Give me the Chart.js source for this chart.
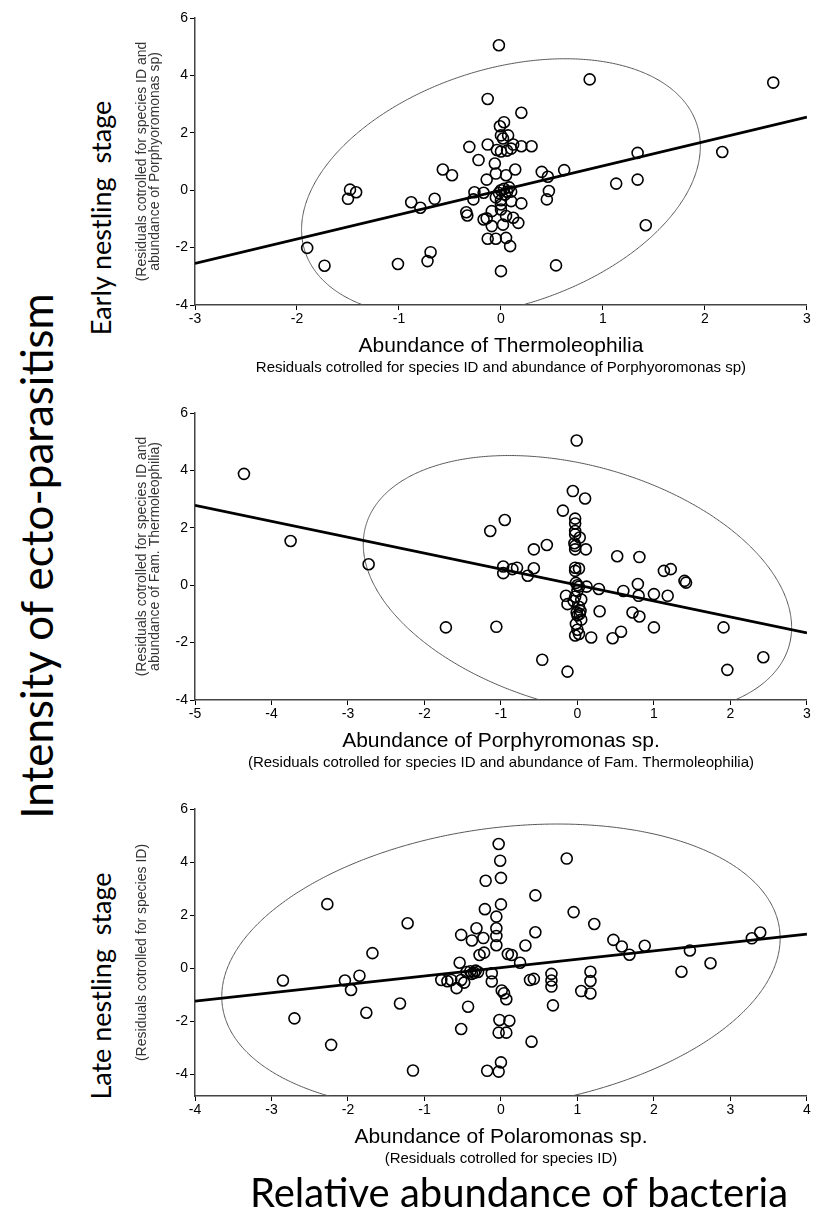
<!DOCTYPE html>
<html><head><meta charset="utf-8">
<script src="https://cdn.jsdelivr.net/npm/chart.js@4.4.0/dist/chart.umd.min.js"></script>
<style>
html,body{margin:0;padding:0;background:#fff;width:814px;height:1211px;overflow:hidden;position:relative}
canvas{position:absolute}
.lbl{position:absolute;white-space:pre;color:#000;font-family:Lato,"Liberation Sans",sans-serif;transform:translate(-50%,-50%) rotate(-90deg);line-height:1}
.hl{position:absolute;white-space:pre;color:#000;font-family:Lato,"Liberation Sans",sans-serif;transform:translate(-50%,-50%);line-height:1}
</style></head><body>
<canvas id="c1" width="684" height="380" style="left:130px;top:0px"></canvas>
<canvas id="c2" width="684" height="380" style="left:130px;top:395px"></canvas>
<canvas id="c3" width="684" height="380" style="left:130px;top:791px"></canvas>
<div class="lbl" style="left:36px;top:556px;font-size:44px">Intensity of ecto-parasitism</div>
<div class="lbl" style="left:100px;top:218px;font-size:27px">Early nestling  stage</div>
<div class="lbl" style="left:100px;top:986px;font-size:27px">Late nestling  stage</div>
<div class="hl" style="left:519px;top:1192px;font-size:40px">Relative abundance of bacteria</div>
<script>
// ---------- Panel 1: Thermoleophilia ----------
const p1X = [-0.02,0.87,2.67,-0.13,0.20,0.03,-0.01,0.00,0.07,0.02,-0.31,-0.13,0.20,0.30,0.12,0.00,0.06,-0.04,0.10,1.34,2.17,-0.22,-0.06,-0.57,-0.48,-0.05,0.14,0.05,-0.14,0.40,0.46,0.62,1.13,1.34,0.47,0.45,0.00,0.03,0.06,-0.02,0.08,0.04,0.10,-0.26,-0.17,-0.27,-1.48,-1.50,-1.42,-0.88,-0.79,-0.65,-0.34,-0.33,-0.17,-0.14,-0.09,0.00,0.10,0.20,0.00,-0.09,0.02,0.12,0.17,0.05,-0.13,-0.05,0.05,0.09,0.00,0.54,1.42,-0.69,-0.72,-1.01,-1.90,-1.73,0.00,-0.05];
const p1Y = [5.05,3.86,3.75,3.18,2.70,2.37,2.23,1.91,1.91,1.80,1.51,1.59,1.53,1.53,1.59,1.35,1.38,1.40,1.45,1.30,1.33,1.05,0.93,0.72,0.52,0.58,0.72,0.52,0.37,0.64,0.47,0.70,0.23,0.37,-0.03,-0.32,0.00,0.05,-0.05,-0.10,0.10,-0.15,-0.05,-0.07,-0.09,-0.32,0.02,-0.30,-0.07,-0.42,-0.61,-0.30,-0.77,-0.88,-1.02,-0.98,-0.73,-0.67,-0.38,-0.46,-0.35,-1.25,-1.20,-0.96,-1.14,-0.90,-1.69,-1.69,-1.66,-1.95,-2.82,-2.62,-1.22,-2.16,-2.47,-2.57,-2.01,-2.63,-0.50,-0.25];
const fit1X = [-3, 3];
const fit1Y = [-2.55, 2.55];
const ell1 = [0, 0.08, 1.955, 1.45, 4.26];   // centre x, centre y, x-amp, y-cos-amp, y-sin-amp (data units)
const xTicks1 = [-3,-2,-1,0,1,2,3];

// ---------- Panel 2: Porphyromonas ----------
const p2X = [-4.36,-3.75,-2.73,-1.72,-1.06,-0.46,-0.13,-1.14,-0.95,-0.57,-0.40,-0.97,-0.97,-0.85,-0.79,-0.65,-0.57,-0.01,-0.06,0.10,-0.19,-0.03,-0.03,-0.03,-0.03,0.03,-0.04,-0.03,0.11,-0.03,-0.03,-0.03,0.02,0.52,0.81,1.13,1.22,1.40,1.42,0.79,0.12,0.28,0.60,0.80,1.00,1.18,0.29,0.72,0.81,1.00,0.57,0.46,0.18,1.91,1.96,2.43,0.00,0.02,-0.02,0.00,-0.03,-0.05,0.02,0.04,0.00,0.05,-0.02,0.00,0.02,-0.03,-0.15,-0.13,0.05,-0.01,0.03];
const p2Y = [3.88,1.54,0.73,-1.47,-1.45,-2.60,-3.01,1.89,2.27,1.25,1.40,0.65,0.42,0.56,0.61,0.33,0.59,5.04,3.28,3.02,2.60,2.32,2.15,1.89,1.77,1.66,1.46,1.37,1.25,1.25,0.61,0.50,0.58,1.01,0.98,0.50,0.56,0.15,0.09,0.04,-0.05,-0.13,-0.20,-0.37,-0.31,-0.37,-0.91,-0.95,-1.09,-1.47,-1.62,-1.85,-1.82,-1.47,-2.95,-2.51,0.00,-0.05,0.08,-0.20,-0.40,-0.55,-0.75,-0.90,-1.05,-1.20,-1.35,-1.55,-1.70,-1.75,-0.37,-0.66,-0.50,-0.95,-1.00];
const fit2X = [-5, 3];
const fit2Y = [2.78, -1.66];
const ell2 = [0, -0.02, 2.80, -1.45, 4.30];
const xTicks2 = [-5,-4,-3,-2,-1,0,1,2,3];

// ---------- Panel 3: Polaromonas ----------
const p3X = [-2.85,-2.70,-2.22,-2.27,-2.04,-1.96,-1.85,-1.76,-1.68,-1.32,-1.22,-1.15,-0.03,-0.01,0.00,-0.20,0.86,0.45,0.95,0.00,-0.21,-0.06,-0.06,-0.06,-0.06,-0.52,-0.32,-0.23,-0.38,0.45,0.32,1.22,1.47,1.58,1.68,1.88,2.47,2.36,2.74,3.28,3.39,-0.54,-0.28,-0.22,0.09,0.14,0.25,-0.45,-0.40,-0.35,-0.30,-0.38,-0.33,-0.78,-0.70,-0.65,-0.52,-0.58,-0.48,-0.12,-0.12,0.01,0.04,0.07,-0.43,0.38,0.43,0.66,0.66,0.66,0.68,1.17,1.17,1.17,1.05,-0.02,0.11,-0.03,0.07,-0.52,0.40,0.00,-0.18,-0.03];
const p3Y = [-0.47,-1.90,-2.90,2.41,-0.47,-0.83,-0.29,-1.69,0.56,-1.34,1.69,-3.87,4.68,4.05,3.40,3.29,4.13,2.74,2.11,2.40,2.22,1.94,1.50,1.21,0.86,1.25,1.50,1.13,1.04,1.35,0.85,1.66,1.06,0.81,0.50,0.84,0.66,-0.14,0.18,1.12,1.34,0.20,0.49,0.58,0.53,0.49,0.20,-0.15,-0.12,-0.18,-0.15,-0.22,-0.10,-0.45,-0.50,-0.45,-0.45,-0.76,-0.55,-0.20,-0.51,-0.85,-0.95,-1.18,-1.46,-0.45,-0.41,-0.22,-0.47,-0.70,-1.41,-0.14,-0.49,-0.96,-0.87,-1.96,-1.99,-2.44,-2.44,-2.30,-2.78,-3.56,-3.88,-3.91];
const fit3X = [-4, 4];
const fit3Y = [-1.25, 1.28];
const ell3 = [0, 0.02, 3.65, 1.10, 5.30];
const xTicks3 = [-4,-3,-2,-1,0,1,2,3,4];

const yTicks = [-4,-2,0,2,4,6];

const FONT = '"Liberation Sans", Arial, sans-serif';

function ellipsePlugin(e){
  return {
    id:'ellipse',
    beforeDatasetsDraw(chart){
      const {ctx, chartArea:a, scales} = chart;
      const sx = scales.x, sy = scales.y;
      ctx.save();
      ctx.beginPath(); ctx.rect(a.left, a.top, a.right-a.left, a.bottom-a.top); ctx.clip();
      ctx.beginPath();
      for(let i=0;i<=720;i++){
        const t = i*Math.PI/360;
        const vx = e[0] + e[2]*Math.cos(t);
        const vy = e[1] + e[3]*Math.cos(t) + e[4]*Math.sin(t);
        const px = sx.getPixelForValue(vx), py = sy.getPixelForValue(vy);
        if(i===0) ctx.moveTo(px,py); else ctx.lineTo(px,py);
      }
      ctx.closePath();
      ctx.strokeStyle = '#555'; ctx.lineWidth = 1; ctx.stroke();
      ctx.restore();
    }
  };
}

function makeChart(id, c){
  const pts = c.xs.map((v,i)=>({x:v, y:c.ys[i]}));
  const fit = c.fx.map((v,i)=>({x:v, y:c.fy[i]}));
  new Chart(document.getElementById(id), {
    type:'scatter',
    data:{datasets:[
      {type:'line', data:fit, borderColor:'#000', borderWidth:2.7, pointRadius:0, tension:0, fill:false, order:1},
      {type:'scatter', data:pts, pointRadius:5.5, pointHoverRadius:5.5, pointBorderWidth:1.6, borderColor:'#000', backgroundColor:'rgba(0,0,0,0)', pointStyle:'circle', order:2}
    ]},
    options:{
      responsive:false, animation:false, devicePixelRatio:1,
      layout:{padding:{top:18, right:3, bottom:3.75, left:0}},
      plugins:{
        legend:{display:false}, tooltip:{enabled:false}, title:{display:false},
        subtitle:{display:true, position:'bottom', fullSize:false, text:c.sub, color:'#000', font:{family:FONT, size:15, lineHeight:1.15}, padding:{top:0,bottom:0}}
      },
      scales:{
        x:{type:'linear', min:c.xmin, max:c.xmax,
          afterBuildTicks:s=>{ s.ticks = c.xt.map(v=>({value:v})); },
          afterFit:s=>{ s.height = 54; },
          grid:{drawOnChartArea:false, drawTicks:true, tickLength:5, color:'#000'},
          border:{display:true, color:'#444', width:1.5},
          ticks:{color:'#000', font:{family:FONT, size:14}, padding:1, maxRotation:0, autoSkip:false},
          title:{display:true, text:c.xTitle, color:'#000', font:{family:FONT, size:21, lineHeight:1.2}, padding:{top:0,bottom:0.5}}
        },
        y:{type:'linear', min:c.ymin, max:6,
          afterBuildTicks:s=>{ s.ticks = yTicks.map(v=>({value:v})); },
          afterFit:s=>{ s.width = 65; },
          grid:{drawOnChartArea:false, drawTicks:true, tickLength:5, color:'#000'},
          border:{display:true, color:'#444', width:1.5},
          ticks:{color:'#000', font:{family:FONT, size:14}, padding:2},
          title:{display:true, text:c.yTitle, color:'#333', font:{family:FONT, size:14, lineHeight:0.965}, padding:{top:5,bottom:0}}
        }
      }
    },
    plugins:[ellipsePlugin(c.ell)]
  });
}

makeChart('c1', {xs:p1X, ys:p1Y, fx:fit1X, fy:fit1Y, ell:ell1, xmin:-3, xmax:3, ymin:-4, xt:xTicks1,
  xTitle:'Abundance of Thermoleophilia',
  sub:'Residuals cotrolled for species ID and abundance of Porphyoromonas sp)',
  yTitle:['(Residuals cotrolled for species ID and','abundance of Porphyoromonas sp)']});
makeChart('c2', {xs:p2X, ys:p2Y, fx:fit2X, fy:fit2Y, ell:ell2, xmin:-5, xmax:3, ymin:-4, xt:xTicks2,
  xTitle:'Abundance of Porphyromonas sp.',
  sub:'(Residuals cotrolled for species ID and abundance of Fam. Thermoleophilia)',
  yTitle:['(Residuals cotrolled for species ID and','abundance of Fam. Thermoleophilia)']});
makeChart('c3', {xs:p3X, ys:p3Y, fx:fit3X, fy:fit3Y, ell:ell3, xmin:-4, xmax:4, ymin:-4.83, xt:xTicks3,
  xTitle:'Abundance of Polaromonas sp.',
  sub:'(Residuals cotrolled for species ID)',
  yTitle:'(Residuals cotrolled for species ID)'});
</script>
</body></html>
